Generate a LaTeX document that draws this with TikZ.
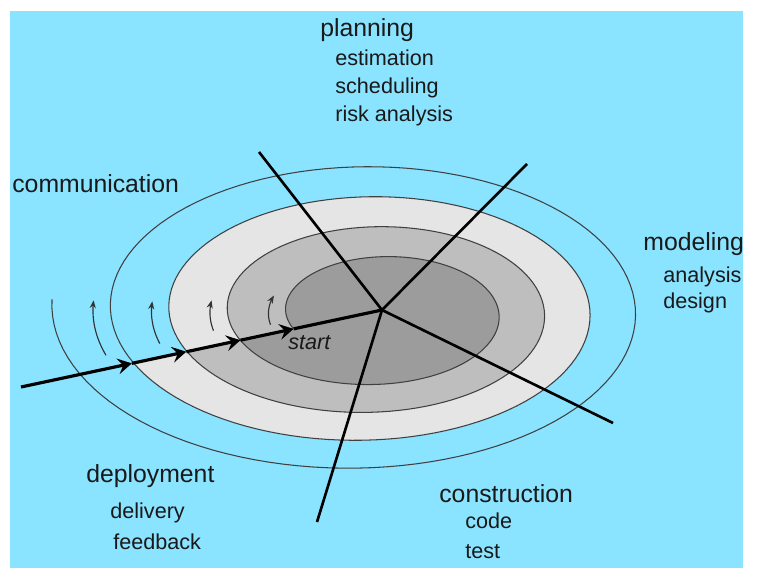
\documentclass[tikz,border=0pt]{standalone}
\usepackage{fontspec}
\setmainfont{Liberation Sans}
\usetikzlibrary{arrows.meta,calc}

\definecolor{sky}{RGB}{138,227,255}
\definecolor{ringA}{RGB}{229,229,229}
\definecolor{ringB}{RGB}{190,190,190}
\definecolor{ringC}{RGB}{156,156,156}

\begin{document}
\begin{tikzpicture}[
        x=0.02cm, y=-0.02cm,
        declare function={
            ex(\s,\p)=355.1+6.5*\s+(303.1-52*\s)*cos(\p);
            ey(\s,\p)=309.7+1.05*\s+(165.4-28.95*\s)*sin(\p);
        },
        phase/.style={font=\fontsize{14.1}{16}\selectfont, anchor=base west, inner sep=0pt, text=black!90},
        task/.style={font=\fontsize{12.3}{14}\selectfont, anchor=base west, inner sep=0pt, text=black!90},
        divider/.style={line width=1.5pt},
        ray/.style={line width=1.8pt, -{Stealth[length=8pt, width=9pt, inset=3pt]}},
        turn/.style={line width=0.6pt, draw=black!75},
        loop arrow/.style={line width=0.65pt, draw=black!80, -{Stealth[length=4.5pt, width=3.5pt]}}
    ]
    \useasboundingbox (0,0) rectangle (773,577);
    \fill[sky] (10,11) rectangle (743,568);

    % rings of the spiral
    \fill[ringA] plot[domain=1.064:2.062, samples=200, variable=\t] ({ex(\t,180-360*\t)},{ey(\t,180-360*\t)}) -- cycle;
    \fill[ringB] plot[domain=2.062:3.058, samples=200, variable=\t] ({ex(\t,180-360*\t)},{ey(\t,180-360*\t)}) -- cycle;
    \fill[ringC] plot[domain=3.058:4.05, samples=200, variable=\t] ({ex(\t,180-360*\t)},{ey(\t,180-360*\t)}) -- cycle;
    \draw[turn] plot[domain=-0.01:4.05, samples=500, variable=\t] ({ex(\t,180-360*\t)},{ey(\t,180-360*\t)});

    % small turn arrows
    \foreach \s/\a/\b in {0.7/162/184, 1.7/164/185, 2.7/168/188, 3.7/169/198}
        \draw[loop arrow] plot[domain=\a:\b, samples=20, variable=\p] ({ex(\s,\p)},{ey(\s,\p)});

    % hub and spokes
    \coordinate (hub) at (382,310);
    \coordinate (in) at (21,387);
    \coordinate (plan) at (259,152);
    \coordinate (model) at (527,164);
    \coordinate (build) at (613,423);
    \coordinate (ship) at (317,522);
    \foreach \e in {plan,model,build,ship}
        \draw[divider] (hub) -- (\e);

    \coordinate (a1) at ($(in)!0.307!(hub)$);
    \coordinate (a2) at ($(in)!0.458!(hub)$);
    \coordinate (a3) at ($(in)!0.608!(hub)$);
    \coordinate (a4) at ($(in)!0.755!(hub)$);
    \draw[ray] (in) -- (a1);
    \draw[ray] (a1) -- (a2);
    \draw[ray] (a2) -- (a3);
    \draw[ray] (a3) -- (a4);
    \draw[line width=1.8pt] (a4) -- (hub);

    % labels
    \node[phase] (planning) at (320,37) {planning};
    \node[task] (estimation) at (335,66) {estimation};
    \node[task] (scheduling) at (335,94) {scheduling};
    \node[task] (risk) at (335,122) {risk analysis};
    \node[phase] (communication) at (12,193) {communication};
    \node[phase] (modeling) at (643,251) {modeling};
    \node[task] (analysis) at (663,282) {analysis};
    \node[task] (design) at (663,308) {design};
    \node[phase] (construction) at (439,502) {construction};
    \node[task] (code) at (465,528) {code};
    \node[task] (test) at (465,558) {test};
    \node[phase] (deployment) at (86,482) {deployment};
    \node[task] (delivery) at (110,518) {delivery};
    \node[task] (feedback) at (113,549) {feedback};
    \node[task, font=\itshape\fontsize{12.3}{14}\selectfont] (start) at (288,349) {start};
\end{tikzpicture}
\end{document}
